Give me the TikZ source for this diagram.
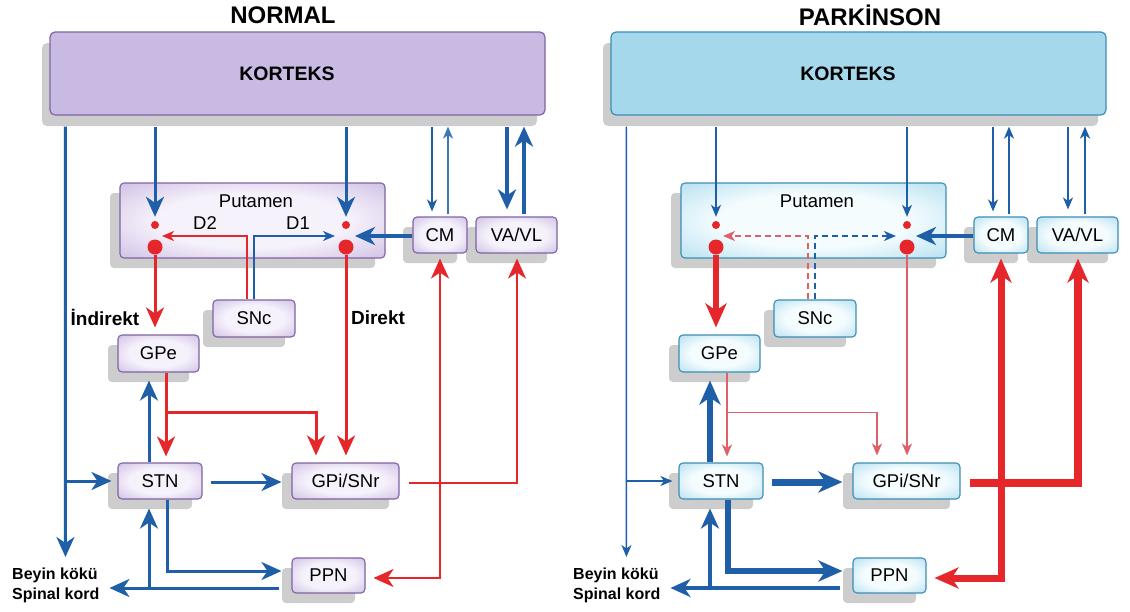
\documentclass[tikz,border=0pt]{standalone}
\usepackage{fontspec}
\setmainfont{Liberation Sans}
\usetikzlibrary{arrows.meta,calc,shadows}

% palette
\definecolor{bl}{HTML}{1F5FA8}
\definecolor{blm}{HTML}{3C78B8}
\definecolor{rd}{HTML}{E5262B}
\definecolor{rdl}{HTML}{E0606A}
\definecolor{shd}{HTML}{CDCDCD}
\definecolor{nfill}{HTML}{C8BAE2}
\definecolor{nedge}{HTML}{7E64A4}
\definecolor{ninner}{HTML}{F6F2FB}
\definecolor{nouter}{HTML}{BBA4D8}
\definecolor{pfill}{HTML}{A4D8EA}
\definecolor{pedge}{HTML}{3E8DB5}
\definecolor{pinner}{HTML}{F4FCFE}
\definecolor{pouter}{HTML}{94D2E9}

% glowing box fills
\pgfdeclareradialshading{nglow}{\pgfpoint{0bp}{0bp}}{color(0bp)=(ninner); color(18bp)=(ninner); color(46bp)=(nouter); color(80bp)=(nouter)}
\pgfdeclareradialshading{pglow}{\pgfpoint{0bp}{0bp}}{color(0bp)=(pinner); color(18bp)=(pinner); color(46bp)=(pouter); color(80bp)=(pouter)}

\newcommand\fsnode{\fontsize{18.5}{21}\selectfont}
\newcommand\fscortex{\fontsize{19.5}{22}\selectfont\bfseries}
\newcommand\fstitle{\fontsize{24}{26}\selectfont\bfseries}
\newcommand\fspath{\fontsize{19}{21}\selectfont\bfseries}
\newcommand\fsout{\fontsize{16}{20}\selectfont\bfseries}

\tikzset{
  tipL/.style={-{Stealth[length=20pt,width=18pt,inset=6pt]}},
  tipS/.style={-{Stealth[length=12pt,width=10pt,inset=3.5pt]}},
  tipXL/.style={-{Stealth[length=24pt,width=21pt,inset=7pt]}},
  conn/.style={line cap=butt, line join=miter},
  nodebox/.style={rectangle, rounded corners=4pt, line width=1.1pt, inner sep=0pt,
    text=black, font=\fsnode, boxpaint,
    drop shadow={shadow xshift=-10pt, shadow yshift=-10pt, fill=shd, opacity=1}},
  cortexbox/.style={rectangle, rounded corners=5pt, line width=1.2pt, inner sep=0pt,
    cortexpaint,
    drop shadow={shadow xshift=-8pt, shadow yshift=-11pt, fill=shd, opacity=1}},
  lbl/.style={inner sep=0pt, font=\fsnode, text=black},
  dotS/.style={circle, fill=rd, inner sep=0pt, minimum size=8pt},
  dotL/.style={circle, fill=rd, inner sep=0pt, minimum size=15pt},
  outtext/.style={inner sep=0pt, font=\fsout, align=left, anchor=west},
}

% one basal-ganglia circuit; line weights come from the a... styles
\newcommand\circuitbody{%
  \node[cortexbox, minimum width=495pt, minimum height=83pt] (k) at (297.5,73.5) {};
  \coordinate (kb) at ($(k.south)+(0,11)$);
  \node[nodebox, minimum width=265pt, minimum height=75pt] (put) at (252.5,220.5) {};
  \node[lbl] (putname) at (256,201) {Putamen};
  \node[nodebox, minimum width=81pt, minimum height=36pt] (vavl) at (516.5,235) {VA/VL};
  \node[nodebox, minimum width=54pt, minimum height=36pt] (cm) at (440,235) {CM};
  \node[nodebox, minimum width=82pt, minimum height=37pt] (snc) at (254,318.5) {SNc};
  \node[nodebox, minimum width=81pt, minimum height=37pt] (gpe) at (158.5,353.5) {GPe};
  \node[nodebox, minimum width=84pt, minimum height=36pt] (stn) at (160,481) {STN};
  \node[nodebox, minimum width=107pt, minimum height=36pt] (gpi) at (345.5,481) {GPi/SNr};
  \node[nodebox, minimum width=73pt, minimum height=35pt] (ppn) at (328.5,575.5) {PPN};
  \node[outtext] (bs) at (12,585) {Beyin kökü\\Spinal kord};
  % striatal neurons
  \node[dotS] (dL1) at (155,225) {};
  \node[dotL] (dL2) at (155,247) {};
  \node[dotS] (dR1) at (346,225) {};
  \node[dotL] (dR2) at (346,247) {};
  \coordinate (mL) at ($(dL1)!.5!(dL2)$);
  \coordinate (mR) at ($(dR1)!.5!(dR2)$);
  % cortical outputs
  \draw[conn, aKL] ($(k.south west)+(16,11)$) -- ($(stn.west)+(-52,76)$);
  \draw[conn, aKSTN] ($(stn.west)+(-52,0)$) -- ($(stn.west)+(-6,0)$);
  \draw[conn, aKPut] (dL1 |- kb) -- ($(dL1.north)+(0,-4)$);
  \draw[conn, aKPut] (dR1 |- kb) -- ($(dR1.north)+(0,-4)$);
  \draw[conn, aKCM] ($(kb -| cm.north)+(-8,0)$) -- ($(cm.north)+(-8,-5)$);
  \draw[conn, aCMK] ($(cm.north)+(8,-2)$) -- ($(kb -| cm.north)+(8,0)$);
  \draw[conn, aKVA] ($(kb -| vavl.north)+(-9.5,0)$) -- ($(vavl.north)+(-9.5,-7)$);
  \draw[conn, aVAK] ($(vavl.north)+(7.5,-2)$) -- ($(kb -| vavl.north)+(7.5,0)$);
  % thalamus and nigra onto the striatum
  \draw[conn, aCMPut] ($(cm.west)+(0,1)$) -- ($(mR)+(9,0)$);
  \draw[conn, aSNr] ($(snc.north)+(-7,0)$) |- ($(mL)+(7,0)$);
  \draw[conn, aSNb] (snc.north) |- ($(mR)+(-11,0)$);
  % striatal outputs
  \draw[conn, aInd] (dL2.south) -- ($(dL2 |- gpe.north)+(0,-7)$);
  \draw[conn, aDir] (dR2.south) -- ($(dR2 |- gpi.north)+(0,-7)$);
  \draw[conn, aGPeSTN] ($(gpe.south)+(7.5,0)$) -- ($(stn.north)+(6,-6)$);
  \draw[conn, aGPeGPi] ($(gpe.south)+(7.5,40)$) -| ($(gpi.north)+(-29.5,-7)$);
  % subthalamic loops
  \draw[conn, aSTNGPe] ($(stn.north)+(-11,0)$) -- ($(gpe.south)+(-9.5,8)$);
  \draw[conn, aSTNGPi] ($(stn.east)+(8,1)$) -- ($(gpi.west)+(-10,1)$);
  \draw[conn, aSTNPPN] ($(stn.south)+(7,0)$) |- ($(ppn.west)+(-10,-4.5)$);
  \draw[conn, aPPNBS] ($(ppn.west)+(-12,12.5)$) -- ($(ppn.west)+(-182,12.5)$);
  \draw[conn, aPPNSTN] ($(stn.south)+(-11,89)$) -- ($(stn.south)+(-11,9)$);
  % pallidal output
  \coordinate (go) at ($(gpi.east)+(9,2)$);
  \draw[conn, aGPiCM] (go -| cm.south) -- ($(cm.south)+(0,5)$);
  \draw[conn, aGPiPPN] (go -| cm.south) |- ($(ppn.east)+(8,2.5)$);
  \draw[conn, aGPiVA] (go) -| ($(vavl.south)+(0.5,5)$);
}

\begin{document}
\begin{tikzpicture}[x=1pt,y=-1pt]
  \useasboundingbox (0,0) rectangle (1130,611);
  \fill[white] (0,0) rectangle (1130,611);

  \node[inner sep=0pt, font=\fstitle] (tn) at (283,15) {NORMAL};
  \node[inner sep=0pt, font=\fstitle] (tp) at (870,15) {PARKİNSON};

  % healthy circuit
  \begin{scope}[name prefix=n-,
      boxpaint/.style={shade, shading=nglow, draw=nedge},
      cortexpaint/.style={fill=nfill, draw=nedge},
      aKL/.style={draw=bl, line width=3pt, tipL},
      aKPut/.style={draw=bl, line width=3pt, tipL},
      aKCM/.style={draw=bl, line width=2pt, tipS},
      aCMK/.style={draw=blm, line width=1.5pt, tipS},
      aKVA/.style={draw=bl, line width=4.5pt, tipL},
      aVAK/.style={draw=bl, line width=4.5pt, tipL},
      aCMPut/.style={draw=bl, line width=3.5pt, tipL},
      aSNr/.style={draw=rd, line width=1.5pt, tipS},
      aSNb/.style={draw=bl, line width=1.5pt, tipS},
      aInd/.style={draw=rd, line width=3pt, tipL},
      aDir/.style={draw=rd, line width=3pt, tipL},
      aGPeSTN/.style={draw=rd, line width=3pt, tipL},
      aGPeGPi/.style={draw=rd, line width=3pt, tipL},
      aSTNGPe/.style={draw=bl, line width=3pt, tipL},
      aKSTN/.style={draw=bl, line width=3pt, tipL},
      aSTNGPi/.style={draw=bl, line width=3pt, tipL},
      aSTNPPN/.style={draw=bl, line width=3pt, tipL},
      aPPNBS/.style={draw=bl, line width=3pt, tipL},
      aPPNSTN/.style={draw=bl, line width=3pt, tipL},
      aGPiVA/.style={draw=rd, line width=2.5pt, tipL},
      aGPiCM/.style={draw=rd, line width=2.5pt, tipL},
      aGPiPPN/.style={draw=rd, line width=2.5pt, tipL}]
    \circuitbody
    \node[inner sep=0pt, font=\fscortex] (kt) at (287,74) {KORTEKS};
    \node[lbl] (d2) at (205,223) {D2};
    \node[lbl] (d1) at (298,223) {D1};
    \node[inner sep=0pt, font=\fspath] (ind) at (105,317) {İndirekt};
    \node[inner sep=0pt, font=\fspath] (dirl) at (378,318) {Direkt};
  \end{scope}

  % parkinsonian circuit
  \begin{scope}[xshift=561pt, name prefix=p-,
      boxpaint/.style={shade, shading=pglow, draw=pedge},
      cortexpaint/.style={fill=pfill, draw=pedge},
      aKL/.style={draw=bl, line width=1.5pt, tipS},
      aKPut/.style={draw=bl, line width=1.5pt, tipS},
      aKCM/.style={draw=bl, line width=1.5pt, tipS},
      aCMK/.style={draw=bl, line width=2.5pt, tipS},
      aKVA/.style={draw=bl, line width=1.5pt, tipS},
      aVAK/.style={draw=bl, line width=2.5pt, tipS},
      aCMPut/.style={draw=bl, line width=4pt, tipL},
      aSNr/.style={draw=rdl, line width=1.5pt, dash pattern=on 6pt off 4pt, tipS},
      aSNb/.style={draw=bl, line width=1.5pt, dash pattern=on 6pt off 4pt, tipS},
      aInd/.style={draw=rd, line width=5.5pt, tipXL},
      aDir/.style={draw=rdl, line width=1.5pt, tipS},
      aGPeSTN/.style={draw=rdl, line width=1.5pt, tipS},
      aGPeGPi/.style={draw=rdl, line width=1.5pt, tipS},
      aSTNGPe/.style={draw=bl, line width=6pt, tipXL},
      aKSTN/.style={draw=bl, line width=1.5pt, tipS},
      aSTNGPi/.style={draw=bl, line width=7pt, tipXL},
      aSTNPPN/.style={draw=bl, line width=6pt, tipXL},
      aPPNBS/.style={draw=bl, line width=3.5pt, tipL},
      aPPNSTN/.style={draw=bl, line width=4pt, tipL},
      aGPiVA/.style={draw=rd, line width=8pt, tipXL},
      aGPiCM/.style={draw=rd, line width=7pt, tipXL},
      aGPiPPN/.style={draw=rd, line width=7pt, tipXL}]
    \circuitbody
    \node[inner sep=0pt, font=\fscortex] (kt) at (287,74) {KORTEKS};
  \end{scope}
\end{tikzpicture}
\end{document}
